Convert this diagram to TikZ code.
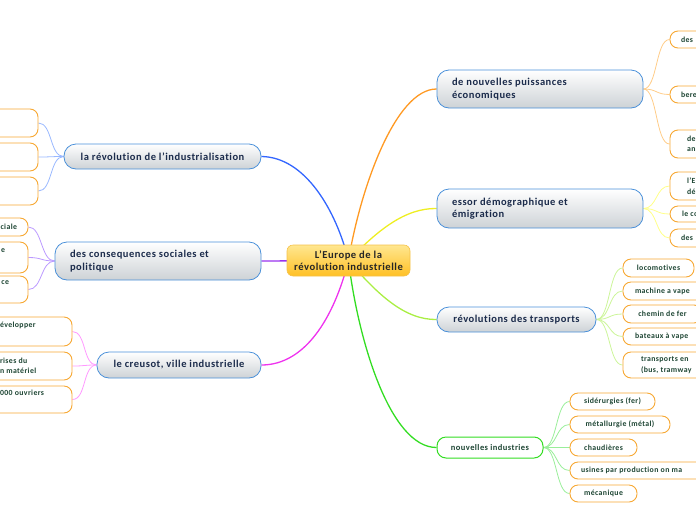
\documentclass[tikz,border=0pt]{standalone}
\usepackage{fontspec}
\setmainfont{Carlito}[LetterSpace=5,Ligatures={NoCommon}]
\usetikzlibrary{backgrounds}
\definecolor{mainblue}{HTML}{4A90D9}
\definecolor{maingrey}{HTML}{CDD2D6}
\definecolor{maintext}{HTML}{1B2B4B}
\definecolor{kidorange}{HTML}{F7A833}
\definecolor{kidtext}{HTML}{1E4634}
\definecolor{goldtop}{HTML}{FFE790}
\definecolor{goldbot}{HTML}{FFC025}
\definecolor{goldline}{HTML}{F5C24A}
\definecolor{cblue}{HTML}{3366FF}
\definecolor{lblue}{HTML}{99B8FF}
\definecolor{cpurple}{HTML}{9933EE}
\definecolor{lpurple}{HTML}{BB99FF}
\definecolor{cmagenta}{HTML}{EE33EE}
\definecolor{lmagenta}{HTML}{FF99FF}
\definecolor{corange}{HTML}{FF9922}
\definecolor{lorange}{HTML}{FFCC88}
\definecolor{cyellow}{HTML}{EEEE22}
\definecolor{lyellow}{HTML}{FFFF88}
\definecolor{clgreen}{HTML}{AAEE44}
\definecolor{llgreen}{HTML}{CCF599}
\definecolor{cgreen}{HTML}{33DD22}
\definecolor{lgreen}{HTML}{99EE99}
\tikzset{
  centerbox/.style={draw=goldline, line width=0.6pt, rounded corners=6pt, top color=goldtop, bottom color=goldbot, text=black!85, font=\bfseries\fontsize{10.6}{11.5}\selectfont, align=flush center, inner sep=0pt},
  mainbox/.style={draw=mainblue, line width=0.8pt, rounded corners=12pt, top color=white, bottom color=maingrey, text=maintext, font=\bfseries\fontsize{10.5}{12.5}\selectfont, inner sep=0pt},
  greenbox/.style={draw=cgreen, line width=1pt, rounded corners=9pt, fill=white, text=kidtext, font=\bfseries\fontsize{8.5}{10}\selectfont, inner sep=0pt},
  kidbox/.style={draw=kidorange, line width=0.9pt, rounded corners=8pt, fill=white, text=kidtext, font=\bfseries\fontsize{7.8}{10.5}\selectfont, inner ysep=0pt},
  trunk/.style={line width=1.3pt},
  twig/.style={line width=0.8pt},
}
\begin{document}
\begin{tikzpicture}[x=1pt,y=-1pt]
\useasboundingbox (0,0) rectangle (696,520);
\clip (0,0) rectangle (696,520);
% central node
\node[centerbox, minimum width=123pt, minimum height=31pt] (c) at (348.5,260.5) {L'Europe de la\\révolution industrielle};
% main nodes
\node[mainbox, minimum width=197pt, minimum height=25pt] (m1) at (162.5,156.5) {la révolution de l'industrialisation};
\node[mainbox, minimum height=38pt, text width=176pt, inner xsep=15pt, align=flush left] (m2) at (158,261) {des consequences sociales et\\politique};
\node[mainbox, minimum width=164pt, minimum height=26pt] (m3) at (179,365) {le creusot, ville industrielle};
\node[mainbox, minimum height=38pt, text width=176pt, inner xsep=15pt, align=flush left] (m4) at (540,89) {de nouvelles puissances\\économiques};
\node[mainbox, minimum height=39pt, text width=176pt, inner xsep=15pt, align=flush left] (m5) at (540,208.5) {essor démographique et\\émigration};
\node[mainbox, minimum width=159pt, minimum height=25pt] (m6) at (516.5,319.5) {révolutions des transports};
\node[greenbox, minimum width=106pt, minimum height=21pt] (m7) at (490,447.5) {nouvelles industries};
% branch 1 children (left, cut off)
\node[kidbox, minimum width=78pt, minimum height=28pt] (k11) at (-1,123) {};
\node[kidbox, minimum width=78pt, minimum height=28pt] (k12) at (-1,157) {};
\node[kidbox, minimum width=78pt, minimum height=28pt] (k13) at (-1,191) {};
% branch 2 children
\node[kidbox, minimum height=18pt, text width=60pt, inner xsep=11pt, align=flush right] (k21) at (-13,227) {ciale};
\node[kidbox, minimum height=31pt, text width=36pt, inner xsep=23pt, align=flush right] (k22) at (-13,257.5) {e\\\strut};
\node[kidbox, minimum height=27pt, text width=44pt, inner xsep=19pt, align=flush right] (k23) at (-13,289.5) {ce\\\strut};
% branch 3 children
\node[kidbox, minimum height=29pt, text width=52pt, inner xsep=20pt, align=flush left] (k31) at (26,331.5) {évelopper\\\strut};
\node[kidbox, minimum height=28pt, text width=52pt, inner xsep=20pt, align=flush left] (k32) at (26,366) {rises du\\n matériel};
\node[kidbox, minimum height=27pt, text width=52pt, inner xsep=20pt, align=flush left] (k33) at (26,399.5) {000 ouvriers\\\strut};
% branch 4 children
\node[kidbox, minimum height=17pt, text width=48pt, inner xsep=11pt, align=flush left] (k41) at (705,39.5) {des};
\node[kidbox, minimum height=17pt, text width=48pt, inner xsep=11pt, align=flush left] (k42) at (705,94.5) {bere};
\node[kidbox, minimum height=28pt, text width=36pt, inner xsep=17pt, align=flush left] (k43) at (705,144) {de\\an};
% branch 5 children
\node[kidbox, minimum height=28pt, text width=36pt, inner xsep=17pt, align=flush left] (k51) at (705,186) {l'E\\dé};
\node[kidbox, minimum height=16pt, text width=46pt, inner xsep=12pt, align=flush left] (k52) at (705,214) {le co};
\node[kidbox, minimum height=18pt, text width=48pt, inner xsep=11pt, align=flush left] (k53) at (705,238) {des};
% branch 6 children
\node[kidbox, minimum width=71pt, minimum height=18pt] (k61) at (658.5,268) {locomotives};
\node[kidbox, minimum height=18pt, text width=113pt, inner xsep=12pt, align=flush left] (k62) at (691.5,291) {machine a vape};
\node[kidbox, minimum width=79pt, minimum height=18pt] (k63) at (662.5,314) {chemin de fer};
\node[kidbox, minimum height=17pt, text width=113pt, inner xsep=12pt, align=flush left] (k64) at (691.5,336.5) {bateaux à vape};
\node[kidbox, minimum height=26pt, text width=107pt, inner xsep=18pt, align=flush left] (k65) at (694.5,365) {transports en\\(bus, tramway};
% branch 7 children
\node[kidbox, minimum width=85pt, minimum height=17pt] (k71) at (612.5,401.5) {sidérurgies (fer)};
\node[kidbox, minimum width=100pt, minimum height=17pt] (k72) at (620,424.5) {métallurgie (métal)};
\node[kidbox, minimum width=67pt, minimum height=17pt] (k73) at (603.5,447.5) {chaudières};
\node[kidbox, minimum height=17pt, text width=158pt, inner xsep=11pt, align=flush left] (k74) at (660,470.5) {usines par production on ma};
\node[kidbox, minimum width=67pt, minimum height=17pt] (k75) at (603.5,493.5) {mécanique};
% connectors
\begin{scope}[on background layer]
\draw[trunk, cblue] (c.center) .. controls (336,210) and (305,157) .. (m1.east);
\draw[trunk, cpurple] (c.center) -- (m2.east);
\draw[trunk, cmagenta] (c.center) .. controls (334,318) and (305,365) .. (m3.east);
\draw[trunk, corange] (c.center) .. controls (360,190) and (395,89) .. (m4.west);
\draw[trunk, cyellow] (c.center) .. controls (378,230) and (405,208) .. (m5.west);
\draw[trunk, clgreen] (c.center) .. controls (378,295) and (405,320) .. (m6.west);
\draw[trunk, cgreen] (c.center) .. controls (358,340) and (390,447.5) .. (m7.west);
\foreach \k in {k11,k12,k13}{\draw[twig, lblue] (m1.west) .. controls +(-14,0) and +(14,0) .. (\k.east);}
\foreach \k in {k21,k22,k23}{\draw[twig, lpurple] (m2.west) .. controls +(-14,0) and +(14,0) .. (\k.east);}
\foreach \k in {k31,k32,k33}{\draw[twig, lmagenta] (m3.west) .. controls +(-14,0) and +(14,0) .. (\k.east);}
\foreach \k in {k41,k42,k43}{\draw[twig, lorange] (m4.east) .. controls +(14,0) and +(-14,0) .. (\k.west);}
\foreach \k in {k51,k52,k53}{\draw[twig, lyellow] (m5.east) .. controls +(14,0) and +(-14,0) .. (\k.west);}
\foreach \k in {k61,k62,k63,k64,k65}{\draw[twig, llgreen] (m6.east) .. controls +(14,0) and +(-14,0) .. (\k.west);}
\foreach \k in {k71,k72,k73,k74,k75}{\draw[twig, lgreen] (m7.east) .. controls +(14,0) and +(-14,0) .. (\k.west);}
\end{scope}
\end{tikzpicture}
\end{document}
